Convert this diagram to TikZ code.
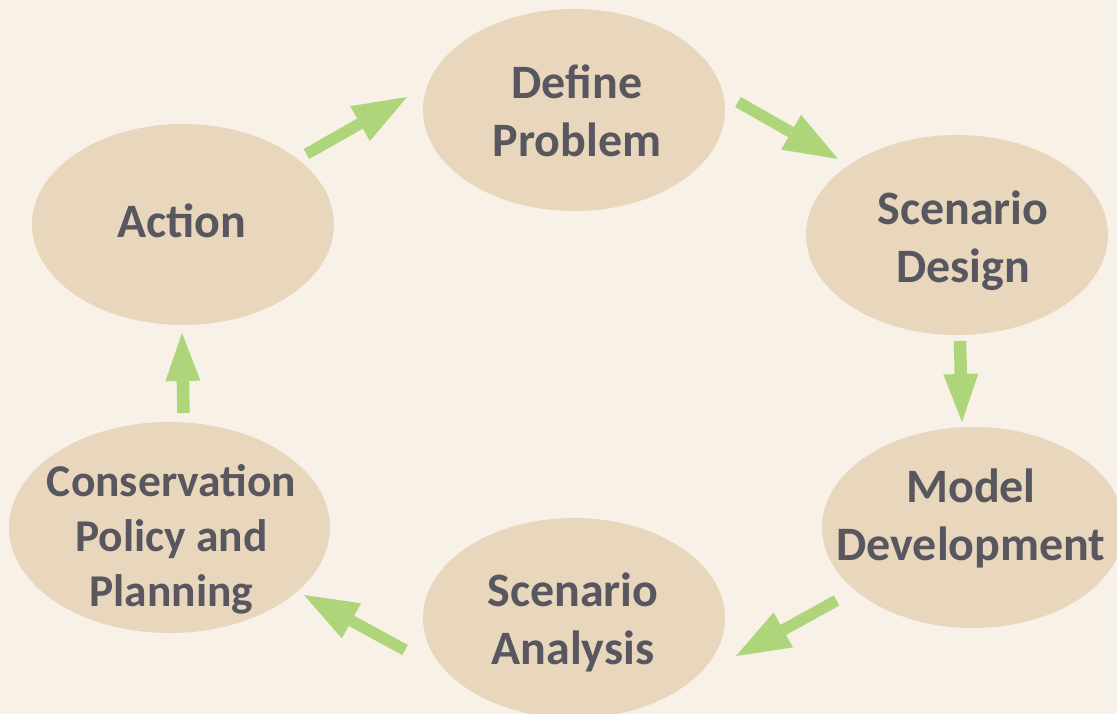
\documentclass[tikz,border=0pt]{standalone}
\usepackage{fontspec}
\setmainfont{Carlito}
\usetikzlibrary{shapes.geometric,arrows.meta}
\definecolor{bgcol}{HTML}{F7F1E7}
\definecolor{blobcol}{HTML}{E8D7BC}
\definecolor{arrowcol}{HTML}{AFD57A}
\definecolor{txtcol}{HTML}{58565E}
\tikzset{
  blob/.style={ellipse, fill=blobcol, draw=none, inner sep=0pt, outer sep=0pt},
  lbl/.style={text=txtcol, align=center, inner sep=0pt, font=\bfseries\fontsize{48}{58}\selectfont},
  lblsmall/.style={lbl, font=\bfseries\fontsize{45.5}{55}\selectfont},
  flowd/.style={draw=arrowcol, line width=11.5pt, -{Triangle[length=54pt,width=40pt,line width=0pt]}},
  flowv/.style={draw=arrowcol, line width=12.5pt, -{Triangle[length=48pt,width=35pt,line width=0pt]}}
}
\begin{document}
\begin{tikzpicture}[x=1pt,y=-1pt]
\useasboundingbox (0,0) rectangle (1117,714);
\fill[bgcol] (0,0) rectangle (1117,714);
\clip (0,0) rectangle (1117,714);
% ellipses
\node[blob, minimum width=302pt, minimum height=202pt] (define) at (574,110) {};
\node[blob, minimum width=302pt, minimum height=201pt] (action) at (183,224.5) {};
\node[blob, minimum width=302pt, minimum height=200pt] (design) at (957,235) {};
\node[blob, minimum width=302pt, minimum height=201pt] (model) at (973,527.5) {};
\node[blob, minimum width=302pt, minimum height=200pt] (analysis) at (574,618) {};
\node[blob, minimum width=321pt, minimum height=211pt] (cons) at (169.5,527.5) {};
% labels
\node[lbl] (definet) at (577,111) {Define\\Problem};
\node[lbl] (actiont) at (182,220.5) {Action};
\node[lbl] (designt) at (963,241) {Scenario\\Design};
\node[lbl] (modelt) at (971,518) {Model\\Development};
\node[lbl] (analysist) at (573,622.5) {Scenario\\Analysis};
\node[lblsmall] (const) at (171.5,539) {Conservation\\Policy and\\Planning};
% arrow end points
\coordinate (a1) at (306.5,154); \coordinate (b1) at (407,97);
\coordinate (a2) at (738,102);   \coordinate (b2) at (838,159);
\coordinate (a3) at (960,341);   \coordinate (b3) at (962,422);
\coordinate (a4) at (183.5,413); \coordinate (b4) at (182,333);
\coordinate (a5) at (836.5,600.5); \coordinate (b5) at (736,656);
\coordinate (a6) at (405,650);   \coordinate (b6) at (304,595);
\draw[flowd] (a1) -- (b1);
\draw[flowd] (a2) -- (b2);
\draw[flowv] (a3) -- (b3);
\draw[flowv] (a4) -- (b4);
\draw[flowd] (a5) -- (b5);
\draw[flowd] (a6) -- (b6);
\end{tikzpicture}
\end{document}
